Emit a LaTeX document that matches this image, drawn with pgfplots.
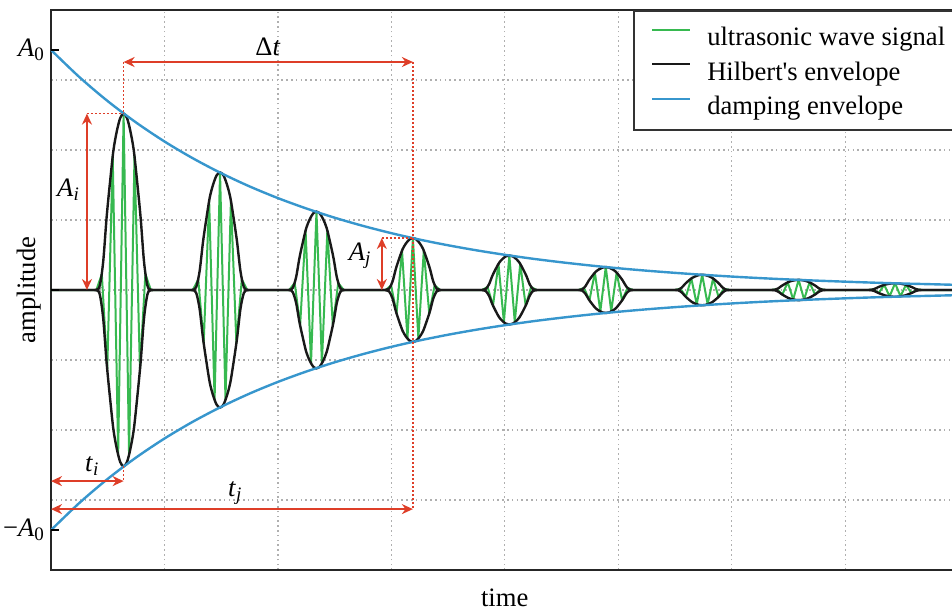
\documentclass[border=0pt]{standalone}
\usepackage{fontspec}
\setmainfont{Liberation Serif}
\usepackage{pgfplots}
\pgfplotsset{compat=1.18}
\usepackage{pgfplotstable}
\usetikzlibrary{arrows.meta}

\definecolor{sig}{RGB}{55,185,80}
\definecolor{damp}{RGB}{55,150,205}
\definecolor{dimred}{RGB}{222,62,40}
\definecolor{gridgray}{RGB}{175,175,175}

\newcommand{\lbl}{\fontsize{13.3}{15}\selectfont}
\newcommand{\sub}[1]{\raisebox{-0.35ex}{\fontsize{9.5}{10}\selectfont #1}}

% damping envelope A0*exp(-a t)
\pgfplotstableread{
x up lo
0 3.430 -3.430
0.25 3.042 -3.042
0.5 2.698 -2.698
0.75 2.393 -2.393
1.0 2.122 -2.122
1.25 1.882 -1.882
1.5 1.669 -1.669
1.75 1.480 -1.480
2.0 1.313 -1.313
2.25 1.165 -1.165
2.5 1.033 -1.033
2.75 0.916 -0.916
3.0 0.812 -0.812
3.25 0.720 -0.720
3.5 0.639 -0.639
3.75 0.567 -0.567
4.0 0.503 -0.503
4.25 0.446 -0.446
4.5 0.396 -0.396
4.75 0.351 -0.351
5.0 0.311 -0.311
5.25 0.276 -0.276
5.5 0.245 -0.245
5.75 0.217 -0.217
6.0 0.192 -0.192
6.25 0.170 -0.170
6.5 0.151 -0.151
6.75 0.134 -0.134
7.0 0.119 -0.119
7.25 0.105 -0.105
7.5 0.093 -0.093
7.75 0.083 -0.083
8.0 0.073 -0.073
8.25 0.065 -0.065
}\damping

% Hilbert envelope of the nine echoes
\pgfplotstableread{
x up lo
0 0 0
0.37 0 0
0.40 0 0
0.43 0.063 -0.063
0.46 0.403 -0.403
0.49 1.033 -1.033
0.52 1.537 -1.537
0.55 1.991 -1.991
0.58 2.268 -2.268
0.61 2.457 -2.457
0.64 2.520 -2.520
0.67 2.457 -2.457
0.70 2.268 -2.268
0.73 1.991 -1.991
0.76 1.537 -1.537
0.79 1.033 -1.033
0.82 0.403 -0.403
0.85 0.063 -0.063
0.88 0 0
0.91 0 0
1.22 0 0
1.25 0 0
1.28 0.042 -0.042
1.31 0.269 -0.269
1.34 0.689 -0.689
1.37 1.025 -1.025
1.40 1.327 -1.327
1.43 1.512 -1.512
1.46 1.638 -1.638
1.49 1.680 -1.680
1.52 1.638 -1.638
1.55 1.512 -1.512
1.58 1.327 -1.327
1.61 1.025 -1.025
1.64 0.689 -0.689
1.67 0.269 -0.269
1.70 0.042 -0.042
1.73 0 0
1.76 0 0
2.07 0 0
2.10 0 0
2.13 0.028 -0.028
2.16 0.179 -0.179
2.19 0.459 -0.459
2.22 0.683 -0.683
2.25 0.885 -0.885
2.28 1.008 -1.008
2.31 1.092 -1.092
2.34 1.120 -1.120
2.37 1.092 -1.092
2.40 1.008 -1.008
2.43 0.885 -0.885
2.46 0.683 -0.683
2.49 0.459 -0.459
2.52 0.179 -0.179
2.55 0.028 -0.028
2.58 0 0
2.61 0 0
2.92 0 0
2.95 0 0
2.98 0.019 -0.019
3.01 0.119 -0.119
3.04 0.304 -0.304
3.07 0.453 -0.453
3.10 0.586 -0.586
3.13 0.668 -0.668
3.16 0.723 -0.723
3.19 0.742 -0.742
3.22 0.723 -0.723
3.25 0.668 -0.668
3.28 0.586 -0.586
3.31 0.453 -0.453
3.34 0.304 -0.304
3.37 0.119 -0.119
3.40 0.019 -0.019
3.43 0 0
3.46 0 0
3.77 0 0
3.80 0 0
3.83 0.012 -0.012
3.86 0.079 -0.079
3.89 0.202 -0.202
3.92 0.301 -0.301
3.95 0.389 -0.389
3.98 0.444 -0.444
4.01 0.481 -0.481
4.04 0.493 -0.493
4.07 0.481 -0.481
4.10 0.444 -0.444
4.13 0.389 -0.389
4.16 0.301 -0.301
4.19 0.202 -0.202
4.22 0.079 -0.079
4.25 0.012 -0.012
4.28 0 0
4.31 0 0
4.62 0 0
4.65 0 0
4.68 0.008 -0.008
4.71 0.052 -0.052
4.74 0.134 -0.134
4.77 0.200 -0.200
4.80 0.259 -0.259
4.83 0.295 -0.295
4.86 0.320 -0.320
4.89 0.328 -0.328
4.92 0.320 -0.320
4.95 0.295 -0.295
4.98 0.259 -0.259
5.01 0.200 -0.200
5.04 0.134 -0.134
5.07 0.052 -0.052
5.10 0.008 -0.008
5.13 0 0
5.16 0 0
5.47 0 0
5.50 0 0
5.53 0.005 -0.005
5.56 0.035 -0.035
5.59 0.089 -0.089
5.62 0.133 -0.133
5.65 0.172 -0.172
5.68 0.196 -0.196
5.71 0.213 -0.213
5.74 0.218 -0.218
5.77 0.213 -0.213
5.80 0.196 -0.196
5.83 0.172 -0.172
5.86 0.133 -0.133
5.89 0.089 -0.089
5.92 0.035 -0.035
5.95 0.005 -0.005
5.98 0 0
6.01 0 0
6.32 0 0
6.35 0 0
6.38 0.004 -0.004
6.41 0.023 -0.023
6.44 0.059 -0.059
6.47 0.088 -0.088
6.50 0.115 -0.115
6.53 0.131 -0.131
6.56 0.141 -0.141
6.59 0.145 -0.145
6.62 0.141 -0.141
6.65 0.131 -0.131
6.68 0.115 -0.115
6.71 0.088 -0.088
6.74 0.059 -0.059
6.77 0.023 -0.023
6.80 0.004 -0.004
6.83 0 0
6.86 0 0
7.17 0 0
7.20 0 0
7.23 0.002 -0.002
7.26 0.016 -0.016
7.29 0.040 -0.040
7.32 0.059 -0.059
7.35 0.077 -0.077
7.38 0.087 -0.087
7.41 0.095 -0.095
7.44 0.097 -0.097
7.47 0.095 -0.095
7.50 0.087 -0.087
7.53 0.077 -0.077
7.56 0.059 -0.059
7.59 0.040 -0.040
7.62 0.016 -0.016
7.65 0.002 -0.002
7.68 0 0
7.71 0 0
8.10 0 0
}\hilbert

\begin{document}
\begin{tikzpicture}[
  dim/.style={draw=dimred, line width=1.1pt,
    {Stealth[length=5.5pt,width=5pt]}-{Stealth[length=5.5pt,width=5pt]}},
  guide/.style={draw=dimred, line width=0.8pt, dash pattern=on 0.9pt off 1.1pt}]
\begin{axis}[
  scale only axis, width=455.5pt, height=280pt,
  xmin=0, xmax=8.03, ymin=-4, ymax=4,
  axis line style={line width=1.2pt, black!85},
  xtick={1,...,8}, ytick={-3,...,3},
  xticklabels={}, yticklabels={},
  major tick length=0pt,
  grid=major,
  major grid style={gridgray, line width=0.6pt, dash pattern=on 0.8pt off 1.6pt},
  extra y ticks={-3.43,0,3.43},
  extra y tick labels={−\textit{A}\sub{0},,\textit{A}\sub{0}},
  extra y tick style={grid=none},
  tick pos=left,
  ticklabel style={font=\lbl},
  xlabel={time}, ylabel={amplitude},
  label style={font=\lbl},
  xlabel style={at={(axis description cs:0.498,-0.05)}, anchor=center},
  ylabel style={at={(axis description cs:-0.024,0.5)}, anchor=center},
  legend style={at={(rel axis cs:0.639,1)}, anchor=north west,
    draw=black!80, line width=0.75pt, fill=white, font=\lbl,
    inner xsep=8.5pt, inner ysep=6pt, row sep=4.25pt, column sep=8pt,
    nodes={inner sep=0pt, text height=11.5pt, text depth=1.5pt}},
  legend cell align=left,
  legend image code/.code={\draw[#1] (0pt,3pt) -- (19pt,3pt);},
]
% ultrasonic signal: extremes of each echo, about five periods per echo
\addplot[sig, line width=1pt, sharp plot, line join=round] coordinates {
(0,0)
(0.40,0) (0.448,0.227) (0.496,-1.134) (0.544,1.915) (0.592,-2.344) (0.64,2.52) (0.688,-2.344) (0.736,1.915) (0.784,-1.134) (0.832,0.227) (0.88,0)
(1.25,0) (1.298,0.151) (1.346,-0.756) (1.394,1.277) (1.442,-1.562) (1.49,1.68) (1.538,-1.562) (1.586,1.277) (1.634,-0.756) (1.682,0.151) (1.73,0)
(2.10,0) (2.148,0.101) (2.196,-0.504) (2.244,0.851) (2.292,-1.042) (2.34,1.12) (2.388,-1.042) (2.436,0.851) (2.484,-0.504) (2.532,0.101) (2.58,0)
(2.95,0) (2.998,0.067) (3.046,-0.334) (3.094,0.564) (3.142,-0.690) (3.19,0.742) (3.238,-0.690) (3.286,0.564) (3.334,-0.334) (3.382,0.067) (3.43,0)
(3.80,0) (3.848,0.044) (3.896,-0.222) (3.944,0.375) (3.992,-0.458) (4.04,0.493) (4.088,-0.458) (4.136,0.375) (4.184,-0.222) (4.232,0.044) (4.28,0)
(4.65,0) (4.698,0.030) (4.746,-0.148) (4.794,0.249) (4.842,-0.305) (4.89,0.328) (4.938,-0.305) (4.986,0.249) (5.034,-0.148) (5.082,0.030) (5.13,0)
(5.50,0) (5.548,0.020) (5.596,-0.098) (5.644,0.166) (5.692,-0.203) (5.74,0.218) (5.788,-0.203) (5.836,0.166) (5.884,-0.098) (5.932,0.020) (5.98,0)
(6.35,0) (6.398,0.013) (6.446,-0.065) (6.494,0.110) (6.542,-0.135) (6.59,0.145) (6.638,-0.135) (6.686,0.110) (6.734,-0.065) (6.782,0.013) (6.83,0)
(7.20,0) (7.248,0.009) (7.296,-0.044) (7.344,0.074) (7.392,-0.090) (7.44,0.097) (7.488,-0.090) (7.536,0.074) (7.584,-0.044) (7.632,0.009) (7.68,0)
(8.10,0)
};
\addlegendentry{ultrasonic wave signal}
\addplot[black!90, line width=1.2pt, smooth] table[x=x, y=up] {\hilbert};
\addlegendentry{Hilbert\textquotesingle s envelope}
\addplot[damp, line width=1.2pt, smooth] table[x=x, y=up] {\damping};
\addlegendentry{damping envelope}
\addplot[black!90, line width=1.2pt, smooth, forget plot] table[x=x, y=lo] {\hilbert};
\addplot[damp, line width=1.2pt, smooth, forget plot] table[x=x, y=lo] {\damping};

% short inward tick marks at A0, 0, -A0
\draw[line width=1pt, black] (axis cs:0,3.43) -- ([xshift=4pt]axis cs:0,3.43);
\draw[line width=1pt, black] (axis cs:0,0) -- ([xshift=4pt]axis cs:0,0);
\draw[line width=1pt, black] (axis cs:0,-3.43) -- ([xshift=4pt]axis cs:0,-3.43);

% dimension guides
\draw[guide] (axis cs:0.64,3.257) -- (axis cs:0.64,2.52);
\draw[guide] (axis cs:3.19,3.257) -- (axis cs:3.19,-3.13);
\draw[guide] (axis cs:0.64,-2.52) -- (axis cs:0.64,-2.73);
\draw[guide] (axis cs:0.317,2.52) -- (axis cs:0.64,2.52);
\draw[guide] (axis cs:2.916,0.742) -- (axis cs:3.19,0.742);
\draw[dim] (axis cs:0.64,3.257) -- (axis cs:3.19,3.257);
\draw[dim] (axis cs:0.317,0) -- (axis cs:0.317,2.52);
\draw[dim] (axis cs:2.916,0) -- (axis cs:2.916,0.742);
\draw[dim] (axis cs:0,-2.73) -- (axis cs:0.64,-2.73);
\draw[dim] (axis cs:0,-3.13) -- (axis cs:3.19,-3.13);
\node[font=\lbl] at (axis cs:1.912,3.47) {Δ\textit{t}};
\node[font=\lbl] at (axis cs:0.15,1.43) {\textit{A}\sub{\textit{i}}};
\node[font=\lbl] at (axis cs:2.72,0.486) {\textit{A}\sub{\textit{j}}};
\node[font=\lbl] at (axis cs:0.36,-2.51) {\textit{t}\sub{\textit{i}}};
\node[font=\lbl] at (axis cs:1.62,-2.90) {\textit{t}\sub{\textit{j}}};

\coordinate (sw) at (rel axis cs:0,0);
\end{axis}
\pgfresetboundingbox
\path[use as bounding box] ([shift={(-25.5pt,-20.5pt)}]sw) rectangle ([shift={(450.5pt,285pt)}]sw);
\end{tikzpicture}
\end{document}
